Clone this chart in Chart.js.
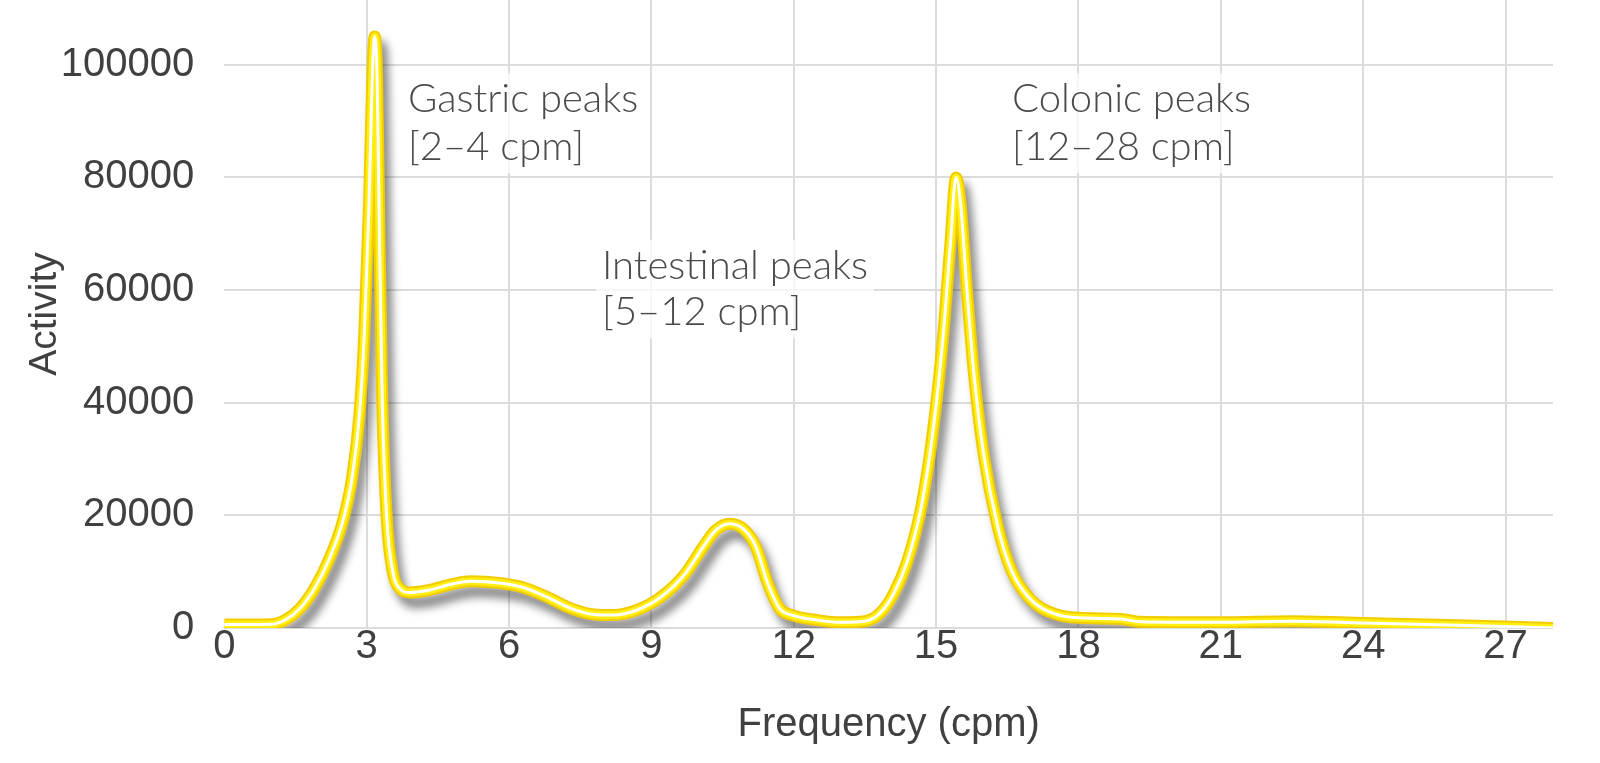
<!DOCTYPE html>
<html>
<head>
<meta charset="utf-8">
<script src="https://cdn.jsdelivr.net/npm/chart.js@4.4.1/dist/chart.umd.min.js"></script>
<style>
  html, body { margin: 0; padding: 0; background: #fff; }
  #wrap { width: 1600px; height: 763px; }
</style>
</head>
<body>
<div id="wrap"><canvas id="spectrum"></canvas></div>
<script>
// frequency (cpm) and activity
const freq = [0, 0.5, 1.0, 1.3, 1.6, 1.9, 2.2, 2.5, 2.7, 2.85, 2.95, 3.05, 3.12, 3.17, 3.22, 3.27, 3.33, 3.42, 3.55, 3.7, 3.9,
  4.3, 4.8, 5.2, 5.8, 6.3, 6.8, 7.3, 7.8, 8.2, 8.7, 9.2, 9.7, 10.1, 10.35, 10.65, 10.95, 11.2, 11.45, 11.7, 12.0, 12.5, 13.0,
  13.5, 13.8, 14.1, 14.4, 14.7, 14.95, 15.15, 15.3, 15.42, 15.52, 15.65, 15.8, 16.0, 16.3, 16.6, 17.0, 17.5, 18.0,
  18.9, 19.3, 21.0, 22.5, 24.0, 26.0, 28.0];
const activity = [600, 600, 650, 1500, 3500, 7000, 12000, 19000, 27000, 38000, 52000, 75000, 98000, 105000, 98000, 70000, 40000, 20000, 10000, 7000, 6300,
  6700, 7800, 8300, 8000, 7200, 5500, 3500, 2400, 2300, 3200, 5500, 9500, 14500, 17300, 18500, 17500, 14500, 8000, 3500, 2200, 1400, 1000,
  1200, 2500, 6000, 12000, 22000, 36000, 52000, 68000, 80000, 75000, 60000, 45000, 31000, 18000, 10000, 5000, 2500, 1800,
  1600, 1100, 1000, 1200, 900, 500, 0];

// tick positions
const xTicks = [0, 3, 6, 9, 12, 15, 18, 21, 24, 27];
const yTicks = [0, 20000, 40000, 60000, 80000, 100000];

// band labels, anchored in data units
const bandNames = ['Gastric peaks', 'Intestinal peaks', 'Colonic peaks'];
const bandRanges = ['[2–4 cpm]', '[5–12 cpm]', '[12–28 cpm]'];
const bandX = [3.87, 7.96, 16.6];
const bandY = [93900, 64300, 93900];
const bandY2 = [85400, 56000, 85400];

const points = freq.map((f, i) => ({ x: f, y: activity[i] }));

const tickFont = { family: '"Liberation Sans", Arial, sans-serif', size: 40 };
const titleFont = { family: '"Liberation Sans", Arial, sans-serif', size: 39 };
const xTitleFont = { family: '"Liberation Sans", Arial, sans-serif', size: 40 };

// soft drop shadow under the outer stroke (last dataset is drawn first)
const shadowPlugin = {
  id: 'shadow',
  beforeDatasetDraw(chart, args) {
    if (args.index !== 2) return;
    const ctx = chart.ctx;
    ctx.save();
    ctx.shadowColor = 'rgba(0,0,0,0.45)';
    ctx.shadowBlur = 9;
    ctx.shadowOffsetX = 6;
    ctx.shadowOffsetY = 10;
  },
  afterDatasetDraw(chart, args) {
    if (args.index !== 2) return;
    chart.ctx.restore();
  }
};

const bandPlugin = {
  id: 'bands',
  beforeDatasetsDraw(chart) {
    const ctx = chart.ctx;
    const xs = chart.scales.x, ys = chart.scales.y;
    ctx.save();
    ctx.font = '300 40px Lato, "Open Sans", sans-serif';
    ctx.textBaseline = 'middle';
    ctx.textAlign = 'left';
    bandNames.forEach((name, i) => {
      const px = xs.getPixelForValue(bandX[i]);
      const py1 = ys.getPixelForValue(bandY[i]);
      const py2 = ys.getPixelForValue(bandY2[i]);
      const w = Math.max(ctx.measureText(name).width, ctx.measureText(bandRanges[i]).width);
      ctx.fillStyle = 'rgba(255,255,255,0.75)';
      ctx.fillRect(px - 6, py1 - 26, w + 12, py2 - py1 + 52);
      ctx.fillStyle = '#4a4a4a';
      ctx.fillText(name, px, py1);
      ctx.fillText(bandRanges[i], px, py2);
    });
    ctx.restore();
  }
};

const noPad = (s) => { s.paddingTop = 0; s.paddingBottom = 0; s.paddingLeft = 0; s.paddingRight = 0; };

new Chart(document.getElementById('spectrum'), {
  type: 'line',
  data: {
    datasets: [
      { data: points, borderColor: '#ffffff', borderWidth: 3 },
      { data: points, borderColor: '#ffee10', borderWidth: 8 },
      { data: points, borderColor: '#f2cc00', borderWidth: 12 },
    ],
  },
  options: {
    responsive: true,
    maintainAspectRatio: false,
    animation: false,
    layout: { padding: { left: 0, right: 47, top: 0, bottom: 0 } },
    elements: {
      point: { radius: 0 },
      line: { cubicInterpolationMode: 'monotone', fill: false },
    },
    plugins: {
      legend: { display: false },
      tooltip: { enabled: false },
    },
    scales: {
      x: {
        type: 'linear',
        min: 0,
        max: 28,
        afterBuildTicks: (s) => { s.ticks = xTicks.map(v => ({ value: v })); },
        afterFit: noPad,
        ticks: { font: tickFont, color: '#404040', padding: -5, maxRotation: 0 },
        grid: {
          color: (c) => (c.tick && c.tick.value === 0 ? 'rgba(0,0,0,0)' : '#dcdcdc'),
          lineWidth: 2,
          drawTicks: false,
        },
        border: { display: false },
        title: {
          display: true,
          text: 'Frequency (cpm)',
          font: xTitleFont,
          color: '#404040',
          padding: { top: 35, bottom: 14 },
        },
      },
      y: {
        min: 0,
        max: 111500,
        afterBuildTicks: (s) => { s.ticks = yTicks.map(v => ({ value: v })); },
        afterFit: noPad,
        ticks: { font: tickFont, color: '#404040', padding: 30, callback: (v) => String(v) },
        grid: { color: '#dcdcdc', lineWidth: 2, drawTicks: false },
        border: { display: false },
        title: {
          display: true,
          text: 'Activity',
          font: titleFont,
          color: '#404040',
          padding: { top: 22, bottom: -38 },
        },
      },
    },
  },
  plugins: [shadowPlugin, bandPlugin],
});
</script>
</body>
</html>
